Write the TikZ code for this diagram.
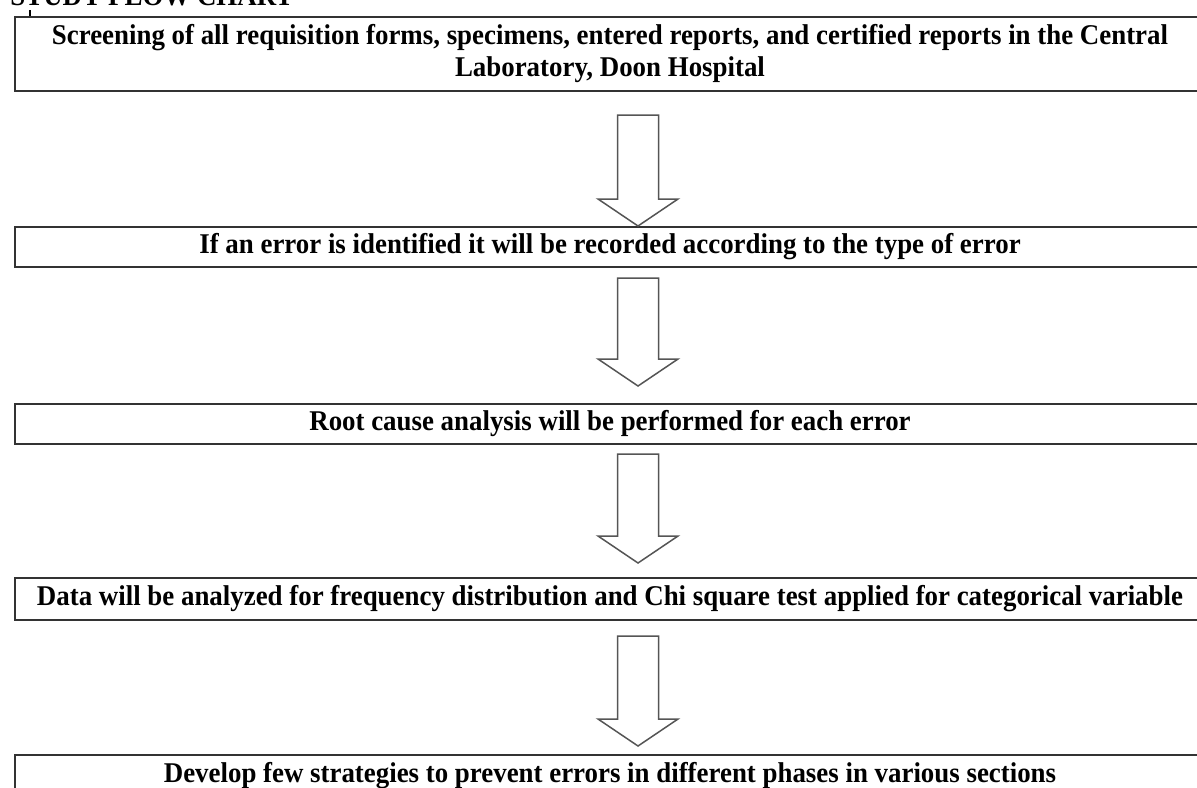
\documentclass[tikz,border=0pt]{standalone}
\usepackage{fontspec}
\setmainfont{Liberation Serif}[FakeStretch=0.94]
\usetikzlibrary{positioning, calc}
\definecolor{boxgray}{HTML}{333333}
\definecolor{arrowgray}{HTML}{555555}
\tikzset{
  stepbox/.style={draw=boxgray, line width=1pt, minimum width=595pt, inner sep=0pt,
    align=center, anchor=north, font=\fontsize{14.3}{16}\selectfont\bfseries},
  blockarrow/.style={draw=arrowgray, line width=.75pt, fill=white, line join=miter,
    to path={let \p1=(\tikztostart), \p2=(\tikztotarget) in
      (\x1-10.25pt,\y1) -- (\x1+10.25pt,\y1) -- (\x1+10.25pt,\y2+13.5pt)
      -- (\x1+20pt,\y2+13.5pt) -- (\x1,\y2) -- (\x1-20pt,\y2+13.5pt)
      -- (\x1-10.25pt,\y2+13.5pt) -- cycle}}
}
\begin{document}
\begin{tikzpicture}[x=0.5pt, y=-0.5pt]
\useasboundingbox (0,0) rectangle (1197,787);
\clip (0,0) rectangle (1197,787);
% heading, cut at the top of the page
\node[font=\fontsize{14.3}{16}\selectfont\bfseries, anchor=base west, inner sep=0pt] (title) at (10,5) {STUDY FLOW CHART};
\draw[line width=.6pt] (30,10) -- (30,16);
% steps
\node[stepbox, minimum height=37pt] (screen) at (610,16) {Screening of all requisition forms, specimens, entered reports, and certified reports in the Central\\Laboratory, Doon Hospital};
\node[stepbox, minimum height=20pt] (record) at (610,226) {If an error is identified it will be recorded according to the type of error};
\node[stepbox, minimum height=20pt] (rootcause) at (610,403) {Root cause analysis will be performed for each error};
\node[stepbox, minimum height=21pt] (analyse) at (610,577) {Data will be analyzed for frequency distribution and Chi square test applied for categorical variable};
\node[stepbox, minimum height=21pt] (develop) at (610,754) {Develop few strategies to prevent errors in different phases in various sections};
% arrows
\draw[blockarrow] ([shift={(14pt,-11.5pt)}]screen.south) to ([xshift=14pt]record.north);
\draw[blockarrow] ([shift={(14pt,-5pt)}]record.south) to ([shift={(14pt,8.5pt)}]rootcause.north);
\draw[blockarrow] ([shift={(14pt,-4.5pt)}]rootcause.south) to ([shift={(14pt,7pt)}]analyse.north);
\draw[blockarrow] ([shift={(14pt,-7.5pt)}]analyse.south) to ([shift={(14pt,4pt)}]develop.north);
\end{tikzpicture}
\end{document}
